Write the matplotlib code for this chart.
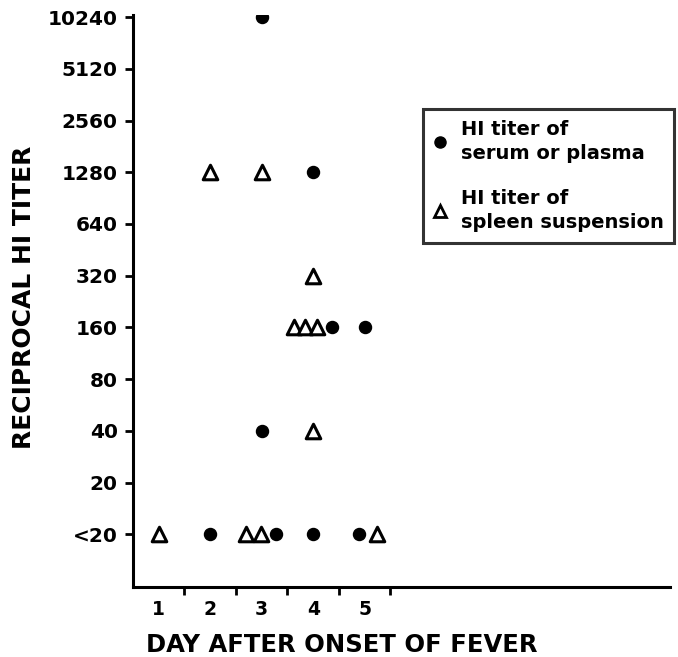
import matplotlib
matplotlib.use('Agg')
import matplotlib.pyplot as plt
from matplotlib.lines import Line2D

# titer 10 stands for "<20"
titer_levels = [10, 20, 40, 80, 160, 320, 640, 1280, 2560, 5120, 10240]
titer_labels = ['<20', '20', '40', '80', '160', '320', '640', '1280', '2560', '5120', '10240']
days = [1, 2, 3, 4, 5]

# serum / plasma (filled dots): day position (with side offset as drawn), titer
serum_day = [2.0, 3.0, 3.0, 3.27, 4.0, 4.37, 4.0, 4.88, 5.0]
serum_titer = [10, 10240, 40, 10, 1280, 160, 10, 10, 160]

# spleen suspension (open triangles)
spleen_day = [1.0, 2.0, 3.0, 2.69, 2.98, 4.0, 3.62, 3.85, 4.08, 4.0, 5.23]
spleen_titer = [10, 1280, 1280, 10, 10, 320, 160, 160, 160, 40, 10]

plt.rcParams['font.family'] = 'DejaVu Sans'
plt.rcParams['font.weight'] = 'bold'

fig = plt.figure(figsize=(6.78, 6.57), dpi=100)
ax = fig.add_axes([133 / 678, 70 / 657, 537 / 678, 572 / 657])

ax.scatter(serum_day, serum_titer, s=75, marker='o', color='black', zorder=3)
ax.scatter(spleen_day, spleen_titer, s=110, marker='^', facecolor='white',
           edgecolor='black', linewidth=2.2, zorder=3)

ax.set_yscale('log', base=2)
ax.set_ylim(10 / 2 ** 1.02, 10240 * 2 ** 0.04)
ax.set_yticks(titer_levels)
ax.set_yticklabels(titer_labels)
ax.minorticks_off()

ax.set_xlim(0.5, 10.93)
ax.set_xticks([d + 0.5 for d in days])
ax.set_xticklabels([])
for d in days:
    ax.text(d, -0.022, str(d), transform=ax.get_xaxis_transform(),
            ha='center', va='top', fontsize=13.5, fontweight='bold')

for side in ['top', 'right']:
    ax.spines[side].set_visible(False)
for side in ['left', 'bottom']:
    ax.spines[side].set_linewidth(2.2)
ax.tick_params(axis='both', direction='out', length=6, width=2, labelsize=14.5)
ax.tick_params(axis='y', pad=5)

# axis titles placed to match the lettering of the original
fig.text(24 / 678, 1 - 297 / 657, 'RECIPROCAL HI TITER', rotation=90,
         ha='center', va='center', fontsize=18, fontweight='bold')
fig.text(146 / 678, 1 - 652 / 657, 'DAY AFTER ONSET OF FEVER',
         ha='left', va='baseline', fontsize=17.5, fontweight='bold')

handles = [
    Line2D([], [], marker='o', color='black', linestyle='none', markersize=8),
    Line2D([], [], marker='^', markerfacecolor='white', markeredgecolor='black',
           markeredgewidth=2, linestyle='none', markersize=9),
]
leg = ax.legend(handles, ['HI titer of\nserum or plasma', 'HI titer of\nspleen suspension'],
                loc='upper left', bbox_to_anchor=(423 / 678, 1 - 109 / 657),
                bbox_transform=fig.transFigure, frameon=True,
                prop={'size': 14, 'weight': 'bold'},
                fancybox=False, handlelength=0.6, handletextpad=0.8,
                borderpad=0.55, labelspacing=1.3, borderaxespad=0)
leg.get_frame().set_edgecolor('black')
leg.get_frame().set_linewidth(2.2)
for t in leg.get_texts():
    t.set_linespacing(1.38)

fig.savefig('out.png', dpi=100)
